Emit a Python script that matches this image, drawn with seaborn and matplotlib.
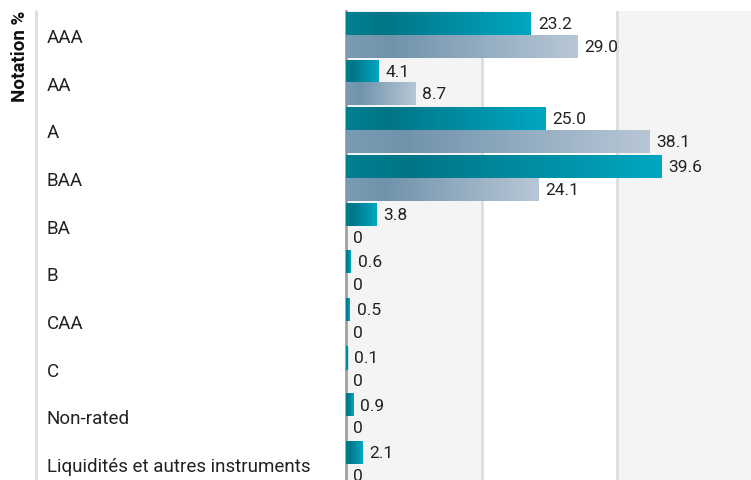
import numpy as np
import pandas as pd
import seaborn as sns
import matplotlib.pyplot as plt
from matplotlib.colors import LinearSegmentedColormap
from matplotlib.lines import Line2D

# %% Data

ratings = ["AAA", "AA", "A", "BAA", "BA", "B", "CAA", "C", "Non-rated",
           "Liquidités et autres instruments"]
fonds  = [23.2, 4.1, 25.0, 39.6, 3.8, 0.6, 0.5, 0.1, 0.9, 2.1]
indice = [29.0, 8.7, 38.1, 24.1, 0.0, 0.0, 0.0, 0.0, 0.0, 0.0]
series = ["Fonds", "Indice"]

df = pd.DataFrame({
    "Notation": ratings * 2,
    "Valeur": fonds + indice,
    "Serie": [series[0]] * len(ratings) + [series[1]] * len(ratings),
})

# %% Styling

sns.set_style("white")
plt.rcParams['font.family'] = ['Roboto', 'DejaVu Sans']

cmaps = {
    "Fonds": LinearSegmentedColormap.from_list(
        "teal", [(0, "#00808f"), (0.2, "#007586"), (1, "#00a7c2")]),
    "Indice": LinearSegmentedColormap.from_list(
        "grey", [(0, "#7a9bb3"), (0.2, "#7093ac"), (1, "#b8c7d6")]),
}
solid = {"Fonds": "#008a9e", "Indice": "#7a9bb3"}

fig = plt.figure(figsize=(7.51, 4.81), dpi=100)
ax = fig.add_axes([346/751, 1 - 489/481, 405/751, 477/481])

sns.barplot(data=df, y="Notation", x="Valeur", hue="Serie", orient="h",
            width=0.96, ax=ax, legend=False, palette=["#00a7c2", "#b8c7d6"])

XMAX = 50.8
# background bands
ax.set_facecolor("#f4f4f4")
ax.axvspan(17, 34, color="white", zorder=0)
for g in [17, 34]:
    ax.axvline(g, color="#dddddd", lw=2, zorder=0.5)

# replace flat bars with gradients
grad = np.linspace(0, 1, 256).reshape(1, -1)
for container, name in zip(ax.containers, series):
    for bar, val in zip(container, df.loc[df["Serie"] == name, "Valeur"]):
        x0, y0 = bar.get_x(), bar.get_y()
        w, h = bar.get_width(), bar.get_height()
        if w > 0.3:
            bar.set_visible(False)
            ax.imshow(grad, cmap=cmaps[name], aspect="auto", zorder=2,
                      extent=(x0, x0 + w, y0 + h, y0), interpolation="bicubic")
        elif w > 0:
            # very thin bar: keep the patch so it stays visible
            bar.set_facecolor(solid[name])
            bar.set_edgecolor(solid[name])
            bar.set_linewidth(1.0)
            bar.set_zorder(2)
        else:
            bar.set_visible(False)
        lab = "0" if val == 0 else f"{val:.1f}"
        ax.annotate(lab, (x0 + w, y0 + h / 2), xytext=(5, 0),
                    textcoords="offset points", va="center", ha="left",
                    fontsize=12.5, color="#222222", zorder=3)

ax.set_xlim(0, XMAX)
ax.set_ylim(len(ratings) - 0.5, -0.5)
ax.set_xticks([])
ax.set_xlabel("")
ax.set_ylabel("")

for s in ["top", "right", "bottom"]:
    ax.spines[s].set_visible(False)
ax.spines["left"].set_color("#a0a0a0")
ax.spines["left"].set_linewidth(2)
ax.spines["left"].set_zorder(1.5)

ax.tick_params(axis="y", length=0, pad=(346 - 47) * 0.72, labelsize=13.5,
               labelcolor="#222222")
for t in ax.get_yticklabels():
    t.set_horizontalalignment("left")

# left rule and title
fig.add_artist(Line2D([36/751, 36/751], [0, 1 - 12/481], color="#dddddd",
                      lw=2, transform=fig.transFigure))
fig.text(20/751, 1 - 11/481, "Notation %", rotation=90, ha="center", va="top",
         fontsize=13.5, fontweight="bold", color="#111111")

fig.savefig("out.png", dpi=100)
